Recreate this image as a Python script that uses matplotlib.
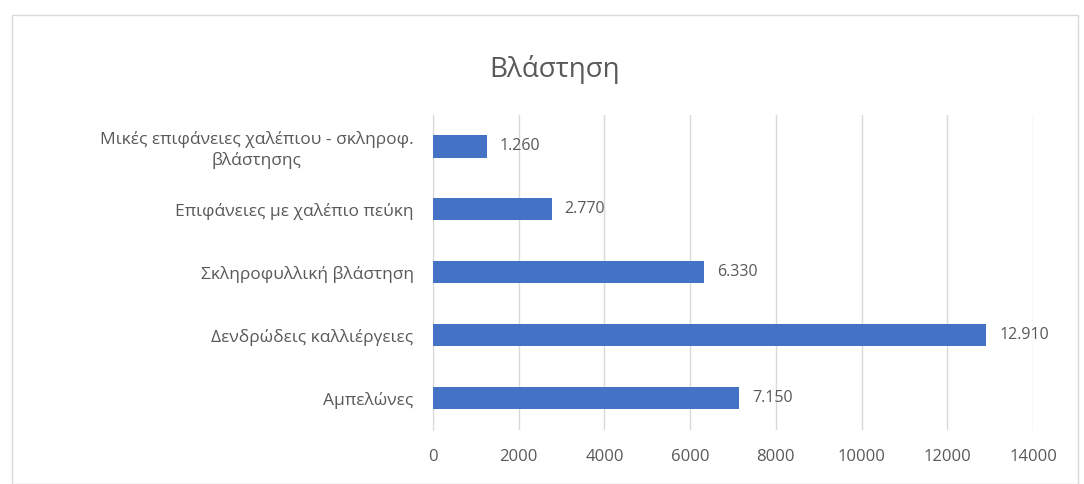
import matplotlib.pyplot as plt
from matplotlib.patches import Rectangle

categories = ["Αμπελώνες", "Δενδρώδεις καλλιέργειες", "Σκληροφυλλική βλάστηση",
              "Επιφάνειες με χαλέπιο πεύκη",
              "Μικές επιφάνειες χαλέπιου - σκληροφ.\nβλάστησης"]
values = [7150, 12910, 6330, 2770, 1260]
xticks = [0, 2000, 4000, 6000, 8000, 10000, 12000, 14000]

plt.rcParams["font.family"] = ["Open Sans", "DejaVu Sans"]
text_col = "#595959"

fig = plt.figure(figsize=(10.84, 4.84), dpi=100)
fig.patches.append(Rectangle((12 / 1084, 0), 1066 / 1084, 1 - 15 / 484,
                             transform=fig.transFigure, fill=False,
                             edgecolor="#d9d9d9", linewidth=1))
ax = fig.add_axes([433 / 1084, 0.1126, 600 / 1084, 0.6504])

ax.barh(range(len(values)), values, height=0.36, color="#4472C4", zorder=3)
for i, v in enumerate(values):
    ax.text(v + 300, i, f"{v:,}".replace(",", "."), va="center", ha="left",
            fontsize=11.5, color=text_col)

ax.set_xlim(0, 14000)
ax.set_ylim(-0.5, len(values) - 0.5)
ax.set_xticks(xticks)
ax.set_xticklabels([str(t) for t in xticks], fontsize=12, color=text_col)
ax.set_yticks(range(len(values)))
ax.set_yticklabels(categories, fontsize=12.5, color=text_col, ha="right",
                   multialignment="center", linespacing=1.3)
ax.tick_params(axis="y", length=0, pad=14)
ax.tick_params(axis="x", length=0, pad=14)
ax.grid(axis="x", color="#d9d9d9", linewidth=1, zorder=0)
for s in ["top", "right", "bottom"]:
    ax.spines[s].set_visible(False)
ax.spines["left"].set_color("#d9d9d9")

fig.text(555 / 1084, 1 - 70 / 484, "Βλάστηση", ha="center", va="center",
         fontsize=20, color=text_col)

fig.savefig("out.png", dpi=100, facecolor="white")
